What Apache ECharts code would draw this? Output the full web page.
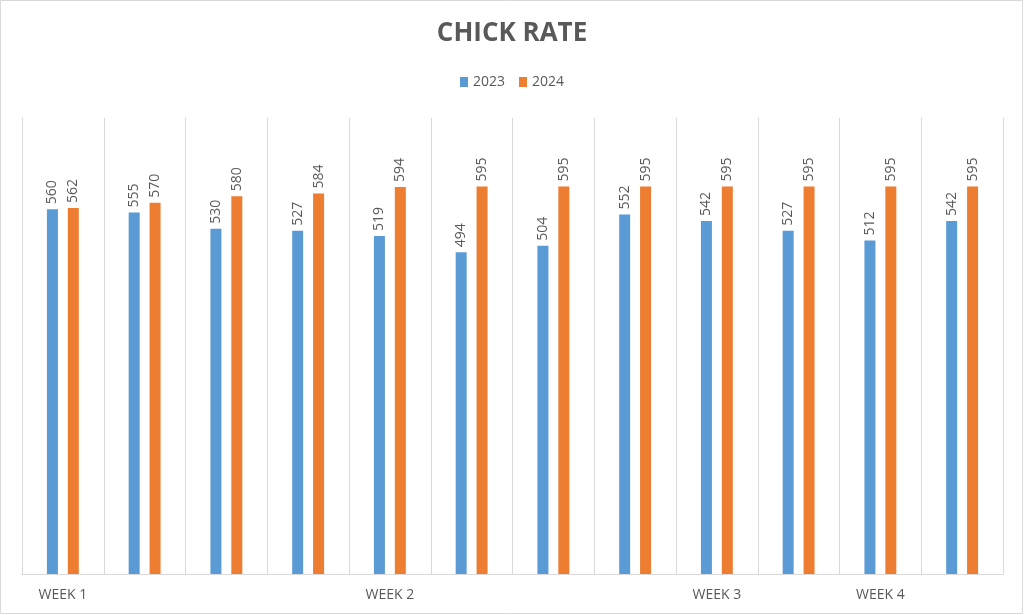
<!DOCTYPE html>
<html><head><meta charset="utf-8">
<script src="https://cdn.jsdelivr.net/npm/echarts@6/dist/echarts.min.js"></script>
<style>html,body{margin:0;padding:0;background:#fff}#c{width:1024px;height:615px}</style>
</head><body><div id="c"></div>
<script>
const categories = ['WEEK 1','','','','WEEK 2','','','','WEEK 3','','WEEK 4',''];
const series2023 = [560,555,530,527,519,494,504,552,542,527,512,542];
const series2024 = [562,570,580,584,594,595,595,595,595,595,595,595];
const seriesNames = ['2023','2024'];
const FONT = '"Open Sans", "Liberation Sans", sans-serif';
const chart = echarts.init(document.getElementById('c'), null, {renderer:'canvas'});
const label = {show:true, position:'top', rotate:90, align:'left', verticalAlign:'middle', distance:5, color:'#595959', fontSize:14, fontFamily:FONT};
chart.setOption({
  animation:false,
  backgroundColor:'#fff',
  title:{text:'CHICK RATE', left:'center', top:16, textStyle:{color:'#595959', fontSize:26, fontWeight:'bold', fontFamily:FONT}},
  legend:{data:seriesNames, top:70, left:'center', itemWidth:8, itemHeight:10, itemGap:14, icon:'rect', textStyle:{color:'#595959', fontSize:14, fontFamily:FONT}},
  grid:{left:22, right:21, top:118, bottom:41, containLabel:false},
  graphic:[{type:'rect', shape:{x:0.5,y:0.5,width:1022,height:613}, style:{fill:'none', stroke:'#d9d9d9', lineWidth:1}, silent:true, z:-10}],
  xAxis:{type:'category', data:categories, boundaryGap:true,
    axisLine:{show:true, lineStyle:{color:'#d9d9d9'}}, axisTick:{show:false},
    axisLabel:{interval:0, color:'#595959', fontSize:14, fontFamily:FONT, margin:14},
    splitLine:{show:true, interval:0, lineStyle:{color:'#d9d9d9'}}},
  yAxis:{type:'value', min:0, max:700, show:false, splitLine:{show:false}},
  series:[
    {name:'2023', type:'bar', data:series2023, barWidth:11, barGap:'90%', itemStyle:{color:'#5b9bd5'}, label:label},
    {name:'2024', type:'bar', data:series2024, barWidth:11, barGap:'90%', itemStyle:{color:'#ed7d31'}, label:label}
  ]
});
</script></body></html>
